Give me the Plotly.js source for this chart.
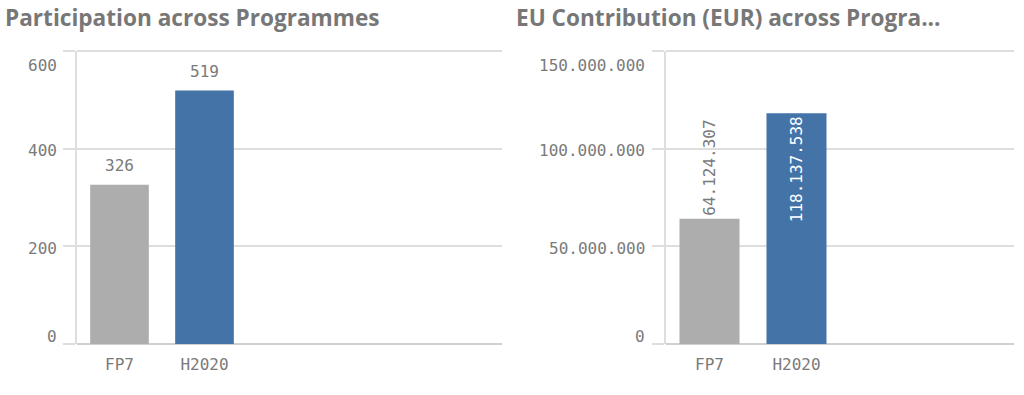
<!DOCTYPE html>
<html><head><meta charset="utf-8">
<script src="https://cdn.plot.ly/plotly-3.0.1.min.js"></script>
<style>html,body{margin:0;padding:0;background:#fff}#chart{width:1024px;height:395px}</style>
</head><body><div id="chart"></div>
<script>
// ---- data ----
const programmes = ['FP7', 'H2020'];
const participation = [326, 519];
const contribution = [64124307, 118137538];
const leftTickVals = [0, 200, 400, 600];
const leftTickText = ['0', '200', '400', '600'];
const rightTickVals = [0, 50000000, 100000000, 150000000];
const rightTickText = ['0', '50.000.000', '100.000.000', '150.000.000'];
const titles = ['Participation across Programmes', 'EU Contribution (EUR) across Progra...'];
const barColors = ['#adadad', '#4473a8'];

const W = 1024, H = 395;
const mono = 'DejaVu Sans Mono, monospace';
const monoSize = 16;
const txtColor = '#7a7a7a';
const gridColor = '#dedede';
const yDom = [(H - 344) / H, (H - 51) / H];

const traces = [
  {type: 'bar', x: programmes, y: participation, xaxis: 'x', yaxis: 'y',
   marker: {color: barColors}, hoverinfo: 'none', cliponaxis: false},
  {type: 'bar', x: programmes, y: contribution, xaxis: 'x2', yaxis: 'y2',
   marker: {color: barColors}, hoverinfo: 'none', cliponaxis: false,
   texttemplate: '%{y:,.0f}', textangle: -90,
   textposition: ['outside', 'inside'], insidetextanchor: 'end',
   constraintext: 'none',
   outsidetextfont: {family: mono, size: monoSize, color: txtColor},
   insidetextfont: {family: mono, size: monoSize, color: '#ffffff'}}
];

function yAxis(range, vals) {
  return {domain: yDom, range: range, tickvals: vals, showticklabels: false,
    ticks: 'outside', ticklen: 12, tickwidth: 2, tickcolor: gridColor,
    showgrid: true, gridcolor: gridColor, gridwidth: 2,
    showline: true, linecolor: gridColor, linewidth: 2,
    zeroline: true, zerolinecolor: '#d0d0d0', zerolinewidth: 2, fixedrange: true};
}
function xAxis(dom, range, anchor) {
  return {domain: dom, range: range, anchor: anchor, type: 'category',
    showgrid: false, showline: false, zeroline: false, ticks: '',
    ticklabelstandoff: 9,
    tickfont: {family: mono, size: monoSize, color: txtColor}, fixedrange: true};
}

const annotations = [];
// titles
[[3, titles[0]], [514, titles[1]]].forEach(([x, t]) => annotations.push({
  xref: 'paper', yref: 'paper', x: x / W, y: 1 - 17 / H, xanchor: 'left', yanchor: 'middle',
  text: '<b>' + t + '</b>', showarrow: false,
  font: {family: 'Open Sans, sans-serif', size: 22.6, color: '#777777'}}));
// y tick labels (edge labels pulled inside like the original)
function tickLabels(vals, texts, yref, xRight) {
  vals.forEach((v, i) => {
    let shift = 0;
    if (i === 0) shift = 8;
    else if (i === vals.length - 1) shift = -14;
    else shift = -2;
    annotations.push({xref: 'paper', yref: yref, x: xRight / W, y: v,
      xanchor: 'right', yanchor: 'middle', yshift: shift, showarrow: false,
      text: texts[i], font: {family: mono, size: monoSize, color: txtColor}});
  });
}
tickLabels(leftTickVals, leftTickText, 'y', 59);
tickLabels(rightTickVals, rightTickText, 'y2', 647);
// value labels for the left chart
programmes.forEach((p, i) => annotations.push({xref: 'x', yref: 'y', x: p, y: participation[i],
  xanchor: 'center', yanchor: 'bottom', yshift: 8, showarrow: false,
  text: String(participation[i]), font: {family: mono, size: monoSize, color: txtColor}}));

// top frame gridline at the top of each plot area
const shapes = [['x', 'y'], ['x2', 'y2']].map(([xa, ya]) => ({
  type: 'line', xref: xa + ' domain', yref: ya + ' domain', x0: 0, x1: 1, y0: 1, y1: 1,
  line: {color: gridColor, width: 2}, layer: 'below'}));

const layout = {
  width: W, height: H, margin: {l: 0, r: 0, t: 0, b: 0},
  paper_bgcolor: '#ffffff', plot_bgcolor: '#ffffff',
  separators: ',.', showlegend: false, bargap: 0.31,
  xaxis: xAxis([77 / W, 502 / W], [-0.5, 4.5], 'y'),
  yaxis: yAxis([0, 600], leftTickVals),
  xaxis2: xAxis([666 / W, 1014 / W], [-0.5, 3.5], 'y2'),
  yaxis2: Object.assign(yAxis([0, 150000000], rightTickVals), {anchor: 'x2'}),
  annotations: annotations, shapes: shapes
};
layout.yaxis.anchor = 'x';

Plotly.newPlot('chart', traces, layout, {staticPlot: true, displayModeBar: false});
</script></body></html>
